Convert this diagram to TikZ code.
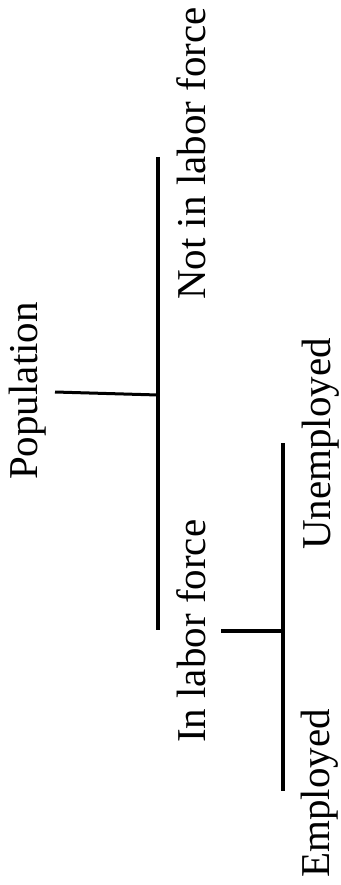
\documentclass[tikz,border=0pt]{standalone}
\usepackage{fontspec}
\setmainfont{Liberation Serif}
\begin{document}
\begin{tikzpicture}[x=1pt,y=-1pt,
  lbl/.style={rotate=90,anchor=base west,inner sep=0pt,font=\fontsize{41}{49}\selectfont},
  bar/.style={line width=4pt,black},
  thinbar/.style={line width=3pt,black}]
\useasboundingbox (0,0) rectangle (340,885);
% labels
\node[lbl] (pop) at (37.5,480) {Population};
\node[lbl] (nilf) at (205,300) {Not in labor force};
\node[lbl] (ilf) at (205,743) {In labor force};
\node[lbl] (emp) at (329,878) {Employed};
\node[lbl] (unemp) at (330,550) {Unemployed};
% junction points
\coordinate (p1) at (55,392);
\coordinate (j1) at (158,395);
\coordinate (t1) at (158,157);
\coordinate (b1) at (158,630);
\coordinate (l2) at (221,631);
\coordinate (j2) at (283,631);
\coordinate (t2) at (283,443);
\coordinate (b2) at (283,791);
% connectors
\draw[thinbar] (p1) -- (j1);
\draw[bar] (t1) -- (b1);
\draw[bar] (l2) -- (j2);
\draw[bar] (t2) -- (b2);
\end{tikzpicture}
\end{document}
